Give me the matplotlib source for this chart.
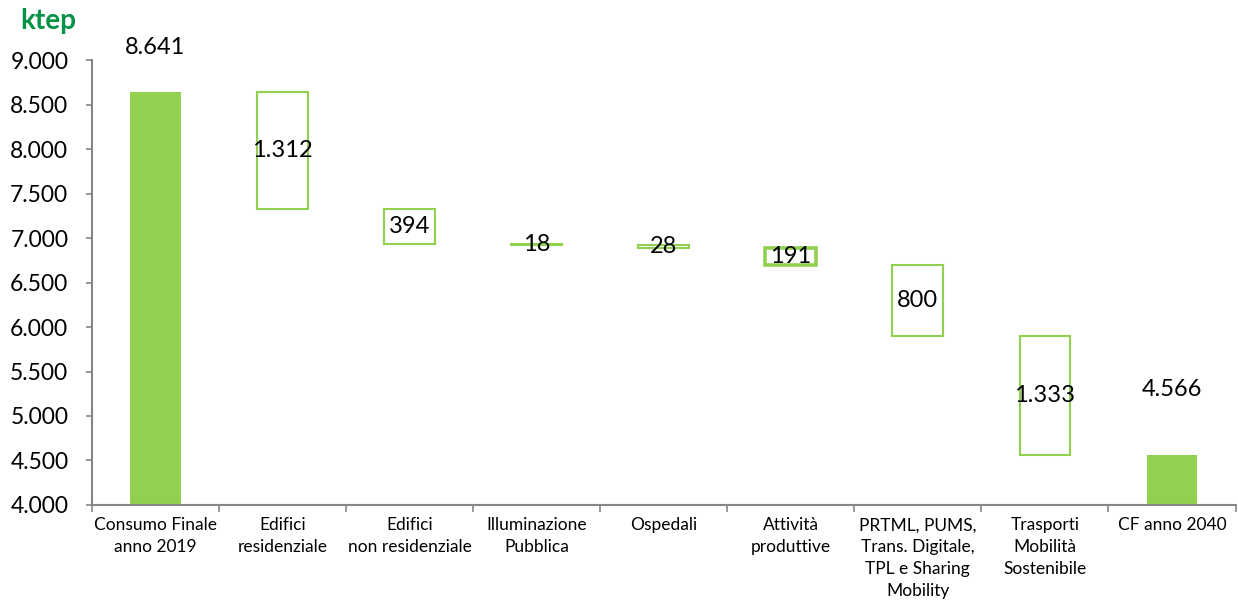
import numpy as np
import matplotlib as mpl
mpl.use('Agg')
import matplotlib.pyplot as plt
from matplotlib.ticker import FuncFormatter

mpl.rcParams['font.family'] = ['Lato', 'DejaVu Sans']

# ktep by measure, 2019 -> 2040
categories = ['Consumo Finale\nanno 2019', 'Edifici\nresidenziale',
              'Edifici\nnon residenziale', 'Illuminazione\nPubblica',
              'Ospedali', 'Attività\nproduttive',
              'PRTML, PUMS,\nTrans. Digitale,\nTPL e Sharing\nMobility',
              'Trasporti\nMobilità\nSostenibile', 'CF anno 2040']
start_total = 8641
reductions = [1312, 394, 18, 28, 191, 800, 1333]
end_total = 4566

green = '#92D050'
axis_grey = '#868686'


def it_fmt(v):
    """Thousands with a dot, Italian style."""
    return f'{int(round(v)):,}'.replace(',', '.')


fig = plt.figure(figsize=(12.38, 6.05), dpi=100)
ax = fig.add_axes([0.0743, 0.1653, 0.9237, 0.7355])

x = np.arange(len(categories))
w = 0.4

# totals
ax.bar(x[0], start_total, bottom=0, width=w, color=green, zorder=2)
ax.bar(x[-1], end_total, bottom=0, width=w, color=green, zorder=2)
ax.annotate(it_fmt(start_total), (x[0], start_total), xytext=(0, 32),
            textcoords='offset points', ha='center', va='center', fontsize=17)
ax.annotate(it_fmt(end_total), (x[-1], end_total), xytext=(0, 47),
            textcoords='offset points', ha='center', va='center', fontsize=17)

# floating reductions
level = start_total
for i, r in enumerate(reductions, start=1):
    lw = 2.6 if r == 191 else 1.5
    ax.bar(x[i], r, bottom=level - r, width=w, facecolor='white',
           edgecolor=green, linewidth=lw, zorder=2)
    ax.text(x[i], level - r / 2, it_fmt(r), ha='center', va='center',
            fontsize=17, zorder=3)
    level -= r

ax.set_ylim(4000, 9000)
ax.set_xlim(-0.5, len(categories) - 0.5)
ax.set_yticks(np.arange(4000, 9001, 500))
ax.yaxis.set_major_formatter(FuncFormatter(lambda v, p: it_fmt(v)))
ax.tick_params(axis='y', labelsize=16.5, length=4, width=1.2, color=axis_grey, pad=13)

ax.set_xticks(x)
ax.set_xticklabels(categories, fontsize=12.5, linespacing=1.45)
ax.set_xticks(np.arange(-0.5, len(categories)), minor=True)
ax.tick_params(axis='x', which='major', length=0, pad=9)
ax.tick_params(axis='x', which='minor', length=5, width=1.2, color=axis_grey)

for s in ['top', 'right']:
    ax.spines[s].set_visible(False)
for s in ['left', 'bottom']:
    ax.spines[s].set_color(axis_grey)
    ax.spines[s].set_linewidth(1.5)

fig.text(0.016, 0.965, 'ktep', color='#009245', fontsize=20,
         fontweight='bold', ha='left', va='center')

fig.savefig('out.png', dpi=100)
